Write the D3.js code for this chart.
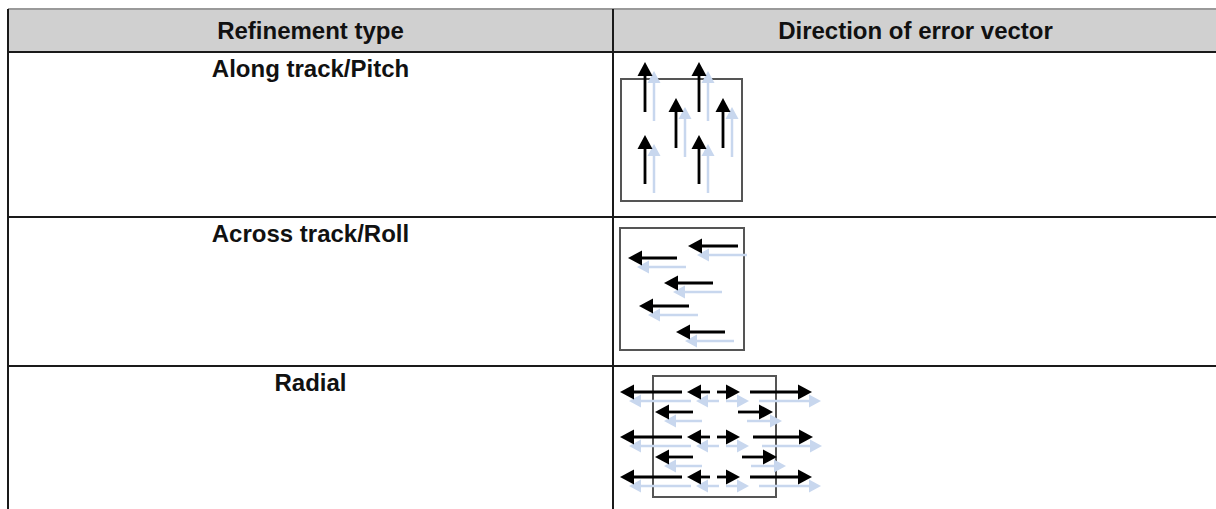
<!DOCTYPE html>
<html><head><meta charset="utf-8">
<script src="https://cdn.jsdelivr.net/npm/d3@7"></script>
<style>html,body{margin:0;padding:0;background:#fff;}svg{display:block;}</style>
</head><body>
<svg id="c" width="1216" height="509"></svg>
<script>
// ---- data ----
const headers = ["Refinement type", "Direction of error vector"];
const refinementTypes = ["Along track/Pitch", "Across track/Roll", "Radial"];
// error vectors per diagram, in diagram units: [tailX, tailY, tipX, tipY]
const pitchVectors = [
  [24, 33, 24, -17], [78, 33, 78, -17],
  [55, 69, 55, 19], [102, 69, 102, 19],
  [24, 105, 24, 56], [78, 105, 78, 56]
];
const rollVectors = [
  [118, 18, 68, 18], [57, 30, 8, 30], [93, 55, 44, 55],
  [69, 78, 19, 78], [105, 104, 56, 104]
];
const radialVectors = [
  [29, 16, -33, 16], [57, 16, 34, 16], [64, 16, 87, 16], [97, 16, 159, 16],
  [40, 36, 2, 36], [85, 36, 120, 36],
  [29, 61, -33, 61], [57, 61, 34, 61], [64, 61, 87, 61], [100, 61, 160, 61],
  [40, 81, 2, 81], [89, 81, 124, 81],
  [29, 101, -33, 101], [57, 101, 34, 101], [64, 101, 87, 101], [97, 101, 159, 101]
];

// ---- layout ----
const svg = d3.select("#c");
const tableLeft = 8, colDivider = 613, tableRight = 1220;
const rowEdges = [9, 52, 217, 366, 520];
const xCol = d3.scaleOrdinal().domain([0, 1]).range([(tableLeft + colDivider) / 2, (colDivider + 1218) / 2]);

// header fill
svg.append("rect").attr("x", tableLeft).attr("y", rowEdges[0]).attr("width", tableRight - tableLeft)
  .attr("height", rowEdges[1] - rowEdges[0]).attr("fill", "#d0d0d0");
svg.append("line").attr("x1", tableLeft).attr("x2", tableRight).attr("y1", rowEdges[0]).attr("y2", rowEdges[0])
  .attr("stroke", "#9a9a9a").attr("stroke-width", 2);

// grid lines
[rowEdges[1], rowEdges[2], rowEdges[3]].forEach(y => {
  svg.append("line").attr("x1", tableLeft).attr("x2", tableRight).attr("y1", y).attr("y2", y)
    .attr("stroke", "#1a1a1a").attr("stroke-width", 2);
});
[tableLeft, colDivider].forEach(x => {
  svg.append("line").attr("x1", x).attr("x2", x).attr("y1", rowEdges[0]).attr("y2", 520)
    .attr("stroke", "#1a1a1a").attr("stroke-width", 2);
});

const font = "'Liberation Sans', Arial, sans-serif";
const fs = 24;
svg.selectAll("text.h").data(headers).join("text").attr("class", "h")
  .attr("x", (d, i) => xCol(i)).attr("y", 39).attr("text-anchor", "middle")
  .attr("font-family", font).attr("font-weight", "bold").attr("font-size", fs).attr("fill", "#111").text(d => d);
svg.selectAll("text.r").data(refinementTypes).join("text").attr("class", "r")
  .attr("x", xCol(0)).attr("y", (d, i) => rowEdges[i + 1] + 25).attr("text-anchor", "middle")
  .attr("font-family", font).attr("font-weight", "bold").attr("font-size", fs).attr("fill", "#111").text(d => d);

// ---- diagrams ----
function drawDiagram(box, vectors) {
  const sx = d3.scaleLinear().domain([0, 120]).range([box.x, box.x + 120]);
  const sy = d3.scaleLinear().domain([0, 120]).range([box.y, box.y + 120]);
  const g = svg.append("g");
  g.append("rect").attr("x", sx(0)).attr("y", sy(0)).attr("width", box.w).attr("height", box.h)
    .attr("fill", "none").attr("stroke", "#555").attr("stroke-width", 2);
  function arrows(layer, dx, dy, color, sw, hl, hw) {
    vectors.forEach(v => {
      const x1 = sx(v[0]) + dx, y1 = sy(v[1]) + dy, x2 = sx(v[2]) + dx, y2 = sy(v[3]) + dy;
      const len = Math.hypot(x2 - x1, y2 - y1), ux = (x2 - x1) / len, uy = (y2 - y1) / len;
      const bx = x2 - ux * hl, by = y2 - uy * hl;
      layer.append("line").attr("x1", x1).attr("y1", y1).attr("x2", bx + ux).attr("y2", by + uy)
        .attr("stroke", color).attr("stroke-width", sw);
      layer.append("path").attr("d", `M${x2},${y2}L${bx - uy * hw},${by + ux * hw}L${bx + uy * hw},${by - ux * hw}Z`)
        .attr("fill", color);
    });
  }
  arrows(g.append("g"), 9, 9, "#c8d7ee", 2.5, 12, 6.5);
  arrows(g.append("g"), 0, 0, "#000", 2.8, 14, 7.5);
}
drawDiagram({x: 621, y: 79, w: 121, h: 122}, pitchVectors);
drawDiagram({x: 620, y: 228, w: 124, h: 122}, rollVectors);
drawDiagram({x: 653, y: 376, w: 123, h: 121}, radialVectors);
</script>
</body></html>
